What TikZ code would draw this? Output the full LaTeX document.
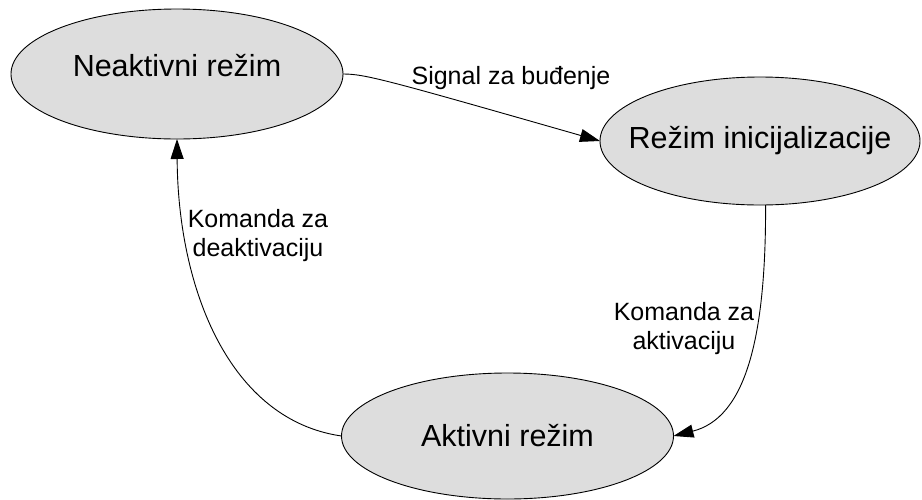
\documentclass[tikz,border=0pt]{standalone}
\usepackage{fontspec}
\setmainfont{Liberation Sans}
\usetikzlibrary{arrows.meta,shapes.geometric}
\definecolor{statefill}{RGB}{221,221,221}
% state text that does not widen its ellipse
\newcommand{\statetext}[1]{\makebox[0pt]{#1}}
\begin{document}
\begin{tikzpicture}[x=1pt,y=-1pt,
  state/.style={ellipse,draw=black,fill=statefill,line width=0.9pt,
    inner sep=0pt,outer sep=0pt,font=\fontsize{30.5}{36}\selectfont},
  edgelabel/.style={font=\fontsize{25}{29.5}\selectfont,align=center,inner sep=0pt},
  transition/.style={line width=0.9pt,-{Triangle[length=20pt,width=13pt]}}]
  \useasboundingbox (0,0) rectangle (922,499);

  % states
  \node[state,minimum width=332pt,minimum height=130pt,text depth=18pt] (N) at (177,74) {\statetext{Neaktivni režim}};
  \node[state,minimum width=320pt,minimum height=128pt] (R) at (760,141) {\statetext{Režim inicijalizacije}};
  \node[state,minimum width=332pt,minimum height=126pt] (A) at (507.5,436) {\statetext{Aktivni režim}};

  % transitions
  \draw[transition] (N.east) .. controls (365,74) and (385,79.5) .. (R.west);
  \draw[transition] (R.-85) .. controls (766,340) and (745,418) .. (A.east);
  \draw[transition] (A.west) .. controls (230,420) and (178,290) .. (N.south);

  % transition labels
  \node[edgelabel,anchor=base] (l1) at (511,84) {Signal za buđenje};
  \node[edgelabel] (l2) at (258,235.7) {Komanda za\\deaktivaciju};
  \node[edgelabel] (l3) at (684,328.5) {Komanda za\\aktivaciju};
\end{tikzpicture}
\end{document}
